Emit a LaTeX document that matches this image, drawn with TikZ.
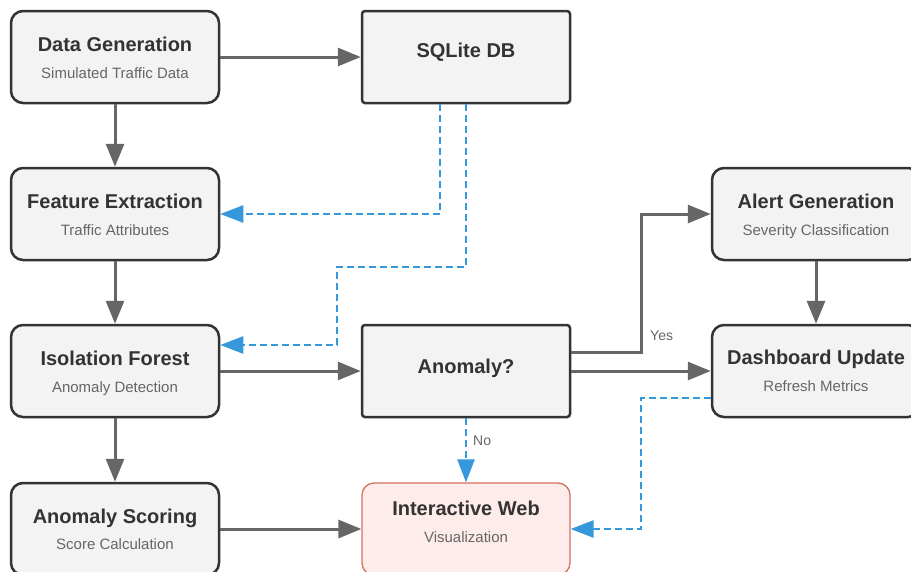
\documentclass[tikz,border=0pt]{standalone}
\usepackage{fontspec}
\setmainfont{Liberation Sans}
\usetikzlibrary{arrows.meta}
\definecolor{boxfill}{HTML}{F3F3F3}
\definecolor{boxline}{HTML}{333333}
\definecolor{arrowgray}{HTML}{666666}
\definecolor{dashblue}{HTML}{3498DB}
\definecolor{webfill}{HTML}{FDECE9}
\definecolor{webline}{HTML}{D4705F}
\definecolor{titlecol}{HTML}{333333}
\definecolor{subcol}{HTML}{666666}
\tikzset{
  box/.style={draw=boxline, fill=boxfill, line width=2.5pt, minimum width=208pt, minimum height=92pt, inner sep=0pt, rounded corners=12pt},
  sqbox/.style={box, rounded corners=3pt},
  webbox/.style={box, draw=webline, fill=webfill, line width=1.3pt},
  ttl/.style={anchor=base, inner sep=0pt, text=titlecol, font=\bfseries\fontsize{20}{22}\selectfont},
  sub/.style={anchor=base, inner sep=0pt, text=subcol, font=\fontsize{15}{17}\selectfont},
  lbl/.style={anchor=base west, inner sep=0pt, text=subcol, font=\fontsize{14}{16}\selectfont},
  flow/.style={draw=arrowgray, line width=3pt, -{Triangle[length=23pt,width=18pt]}},
  dflow/.style={draw=dashblue, line width=2.5pt, dash pattern=on 7pt off 4pt, -{Triangle[length=23pt,width=17pt]}}
}
\begin{document}
\begin{tikzpicture}[x=1pt,y=-1pt]
\useasboundingbox (0,0) rectangle (911,571);
\clip (0,0) rectangle (911,571);
\fill[white] (0,0) rectangle (911,571);
% boxes
\node[box] (dg) at (115,57) {};
\node[sqbox] (db) at (466,57) {};
\node[box] (fe) at (115,214) {};
\node[box] (if) at (115,371) {};
\node[box] (as) at (115,529) {};
\node[sqbox] (an) at (466,371) {};
\node[webbox] (iw) at (466,529) {};
\node[box] (ag) at (816,214) {};
\node[box] (du) at (816,371) {};
% texts
\node[ttl] (dgt) at (115,51) {Data Generation};
\node[sub] (dgs) at (115,78) {Simulated Traffic Data};
\node[ttl] (dbt) at (466,57) {SQLite DB};
\node[ttl] (fet) at (115,208) {Feature Extraction};
\node[sub] (fes) at (115,235) {Traffic Attributes};
\node[ttl] (ift) at (115,365) {Isolation Forest};
\node[sub] (ifs) at (115,392) {Anomaly Detection};
\node[ttl] (ast) at (115,523) {Anomaly Scoring};
\node[sub] (ass) at (115,549) {Score Calculation};
\node[ttl] (ant) at (466,373) {Anomaly?};
\node[ttl] (iwt) at (466,515) {Interactive Web};
\node[sub] (iws) at (466,542) {Visualization};
\node[ttl] (agt) at (816,208) {Alert Generation};
\node[sub] (ags) at (816,235) {Severity Classification};
\node[ttl] (dut) at (816,364) {Dashboard Update};
\node[sub] (dus) at (816,391) {Refresh Metrics};
% solid connectors
\draw[flow] (dg.east) -- (db.west);
\draw[flow] (dg.south) -- (fe.north);
\draw[flow] (fe.south) -- (if.north);
\draw[flow] (if.south) -- (as.north);
\draw[flow] (if.east) -- (an.west);
\draw[flow] (as.east) -- (iw.west);
\draw[flow] (an.east) -- (du.west);
\draw[flow] (ag.south) -- (du.north);
\draw[flow] ([yshift=19pt]an.east) -| (641,214) -- (ag.west);
\node[lbl] (yes) at (650,340) {Yes};
% dashed connectors
\draw[dflow] ([xshift=-26pt]db.south) |- (fe.east);
\draw[dflow] (db.south) |- (337,267) |- ([yshift=26pt]if.east);
\draw[dflow] (an.south) -- (iw.north);
\node[lbl] (no) at (473,445) {No};
\draw[dflow] ([yshift=-27pt]du.west) -| (641,529) -- (iw.east);
\end{tikzpicture}
\end{document}
